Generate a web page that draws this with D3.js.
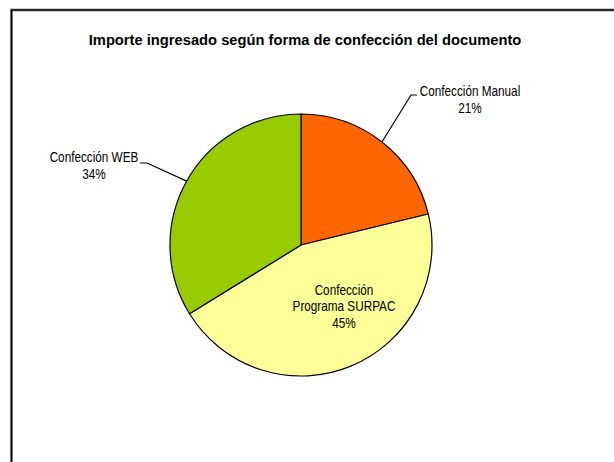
<!DOCTYPE html>
<html><head><meta charset="utf-8">
<script src="https://cdn.jsdelivr.net/npm/d3@7"></script>
<style>
body{margin:0;background:#fff;}
svg text{font-family:"Liberation Sans Narrow","Arial Narrow","Liberation Sans",Arial,sans-serif;fill:#000;}
</style></head>
<body>
<svg id="c" width="614" height="462"></svg>
<script>
const title = "Importe ingresado según forma de confección del documento";
const categories = ["Confección Manual", "Confección Programa SURPAC", "Confección WEB"];
const values = [21.2, 45.0, 33.8];
const pctLabels = ["21%", "45%", "34%"];
const colors = ["#FF6600", "#FFFF99", "#99CC00"];

const svg = d3.select("#c");
// chart frame
svg.append("rect").attr("x", 11.5).attr("y", 10).attr("width", 640).attr("height", 500)
  .attr("fill", "#fff").attr("stroke", "#999").attr("stroke-width", 3);
svg.append("rect").attr("x", 11.5).attr("y", 10).attr("width", 640).attr("height", 500)
  .attr("fill", "none").attr("stroke", "#000").attr("stroke-width", 1.5);

// condensed text helper: lines centred at x, first baseline y
function label(parent, x, y, lines, size, sx, bold, lh) {
  const gg = parent.append("g").attr("transform", `translate(${x},${y}) scale(${sx},1)`);
  const t = gg.append("text").attr("text-anchor", "middle").style("font-size", size + "px");
  if (bold) t.style("font-weight", "bold");
  lines.forEach((s, i) => t.append("tspan").attr("x", 0).attr("y", i * lh).text(s));
  return t;
}

label(svg, 305, 45, [title], 15.5, 0.95, true, 0);

const cx = 301, cy = 245, r = 131;
const pie = d3.pie().sort(null).value(d => d)(values);
const arc = d3.arc().innerRadius(0).outerRadius(r);
const g = svg.append("g").attr("transform", `translate(${cx},${cy})`);
g.selectAll("path").data(pie).join("path")
  .attr("d", arc).attr("fill", (d, i) => colors[i])
  .attr("stroke", "#000").attr("stroke-width", 1.2).attr("stroke-linejoin", "round");

const fs = 14, sx = 0.84, lh = 17;
// Manual label (outside, right)
const a0 = (pie[0].startAngle + pie[0].endAngle) / 2;
const p0 = [Math.sin(a0) * r, -Math.cos(a0) * r];
g.append("polyline").attr("fill", "none").attr("stroke", "#000").attr("stroke-width", 1.2)
  .attr("points", [[p0[0], p0[1]], [110, -150], [116, -150]].map(p => p.join(",")).join(" "));
label(g, 169, -149, [categories[0], pctLabels[0]], fs, sx, false, lh);

// WEB label (outside, left)
const a2 = (pie[2].startAngle + pie[2].endAngle) / 2;
const p2 = [Math.sin(a2) * r, -Math.cos(a2) * r];
g.append("polyline").attr("fill", "none").attr("stroke", "#000").attr("stroke-width", 1.2)
  .attr("points", [[p2[0], p2[1]], [-154, -82], [-161, -82]].map(p => p.join(",")).join(" "));
label(g, -207, -83, [categories[2], pctLabels[2]], fs, sx, false, lh);

// SURPAC label (inside)
label(g, 43, 50, ["Confección", "Programa SURPAC", pctLabels[1]], fs, sx, false, 16.5);
</script>
</body></html>
